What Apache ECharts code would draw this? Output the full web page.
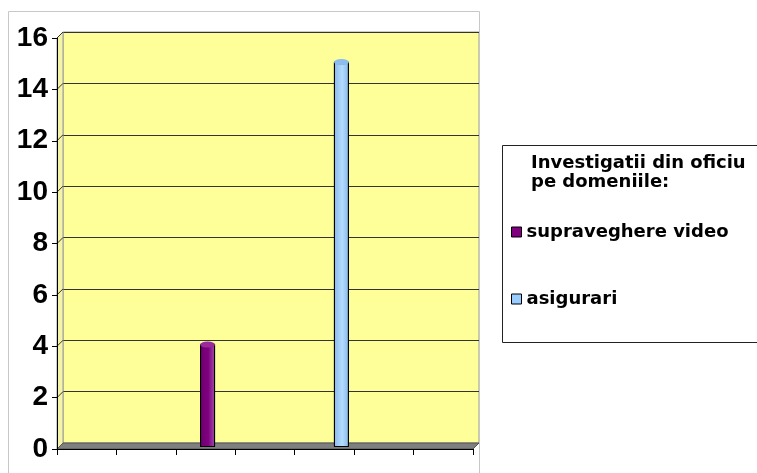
<!DOCTYPE html>
<html>
<head>
<meta charset="utf-8">
<script src="https://cdn.jsdelivr.net/npm/echarts@6/dist/echarts.min.js"></script>
<style>
  html, body { margin: 0; padding: 0; background: #fff; }
  #chart { width: 757px; height: 473px; }
</style>
</head>
<body>
<div id="chart"></div>
<script>
// date
const categories = ['', '', '', '', '', '', ''];
const supraveghereVideo = ['-', '-', 4, '-', '-', '-', '-'];
const asigurari = ['-', '-', '-', '-', 15, '-', '-'];
const yTicks = [0, 2, 4, 6, 8, 10, 12, 14, 16];
const legendTitle = 'Investigatii din oficiu\npe domeniile:';
const seriesNames = ['supraveghere video', 'asigurari'];

// geometria graficului 3D (axa din fata, peretele din spate)
const front = { left: 57, top: 38, width: 416, height: 411 };
const depth = 6;
const wall = { left: front.left + depth, top: front.top - depth, width: front.width, height: front.height };
const mid = { left: front.left + 9.5, top: front.top - 2, width: front.width, height: front.height };

const wallColor = '#FFFF99';
const purple = '#800080';
const blue = '#99CCFF';

function cylinder(c0, c1, c2) {
  return {
    type: 'linear', x: 0, y: 0, x2: 1, y2: 0,
    colorStops: [
      { offset: 0, color: c0 },
      { offset: 0.55, color: c1 },
      { offset: 1, color: c2 }
    ]
  };
}

const chart = echarts.init(document.getElementById('chart'));

const option = {
  animation: false,
  title: {
    text: legendTitle,
    left: 531,
    top: 154,
    padding: 0,
    textStyle: {
      fontFamily: 'DejaVu Sans', fontWeight: 'bold', fontSize: 18,
      lineHeight: 19, color: '#000'
    }
  },
  legend: {
    orient: 'vertical',
    left: 511,
    top: 222,
    padding: 0,
    itemWidth: 10,
    itemHeight: 10,
    itemGap: 47,
    icon: 'rect',
    selectedMode: false,
    data: [
      { name: seriesNames[0], itemStyle: { color: purple, borderColor: '#000', borderWidth: 1 } },
      { name: seriesNames[1], itemStyle: { color: blue, borderColor: '#000', borderWidth: 1 } }
    ],
    textStyle: {
      fontFamily: 'DejaVu Sans', fontWeight: 'bold', fontSize: 18,
      lineHeight: 20, color: '#000'
    }
  },
  grid: [
    Object.assign({ containLabel: false }, front),
    Object.assign({
      show: true, backgroundColor: wallColor, borderColor: '#999', borderWidth: 1
    }, wall),
    mid
  ],
  xAxis: [
    {
      gridIndex: 0, type: 'category', data: categories, z: 6,
      axisLine: { lineStyle: { color: '#000', width: 1 } },
      axisTick: { show: true, interval: 0, length: 6, lineStyle: { color: '#000' } },
      axisLabel: { show: false },
      splitLine: { show: false }
    },
    { gridIndex: 1, type: 'category', data: categories, show: false },
    { gridIndex: 2, type: 'category', data: categories, show: false }
  ],
  yAxis: [
    {
      gridIndex: 0, type: 'value', min: 0, max: 16, interval: 2, z: 6,
      axisLine: { show: true, lineStyle: { color: '#000', width: 1 } },
      axisTick: { show: true, length: 5, lineStyle: { color: '#000' } },
      axisLabel: {
        margin: 9, color: '#000', fontFamily: '"Liberation Sans", Arial, sans-serif',
        fontWeight: 'bold', fontSize: 28
      },
      splitLine: { show: false }
    },
    {
      gridIndex: 1, type: 'value', min: 0, max: 16, interval: 2,
      axisLine: { show: false }, axisTick: { show: false }, axisLabel: { show: false },
      splitLine: { show: true, lineStyle: { color: '#333', width: 1 } }
    },
    { gridIndex: 2, type: 'value', min: 0, max: 16, show: false }
  ],
  series: [
    {
      name: seriesNames[0], type: 'bar', xAxisIndex: 2, yAxisIndex: 2,
      data: supraveghereVideo, barWidth: 15, barGap: '0%', z: 3,
      itemStyle: { color: cylinder('#6e006e', purple, '#a050a8'), borderColor: '#000', borderWidth: 1 }
    },
    {
      name: seriesNames[1], type: 'bar', xAxisIndex: 2, yAxisIndex: 2,
      data: asigurari, barWidth: 15, barGap: '0%', z: 3,
      itemStyle: { color: cylinder('#8ab8ec', '#b4dcff', '#86b6e6'), borderColor: '#000', borderWidth: 1 }
    },
    {
      name: 'capac 1', type: 'pictorialBar', xAxisIndex: 2, yAxisIndex: 2,
      data: supraveghereVideo, barWidth: 15, barGap: '0%', z: 4,
      symbol: 'circle', symbolSize: [15, 6], symbolPosition: 'end', symbolOffset: [0, '-50%'],
      itemStyle: { color: '#9a2a9a', borderColor: '#000', borderWidth: 1 }
    },
    {
      name: 'capac 2', type: 'pictorialBar', xAxisIndex: 2, yAxisIndex: 2,
      data: asigurari, barWidth: 15, barGap: '0%', z: 4,
      symbol: 'circle', symbolSize: [15, 6], symbolPosition: 'end', symbolOffset: [0, '-50%'],
      itemStyle: { color: '#8cbdee', borderColor: '#000', borderWidth: 1 }
    }
  ]
};

chart.setOption(option);

// decor: chenar, podea, perete lateral, legaturi diagonale
const fb = front.top + front.height;
const fr = front.left + front.width;
const graphics = [
  {
    type: 'rect', z: 0, silent: true,
    shape: { x: 8.5, y: 11.5, width: 471, height: 480 },
    style: { fill: 'none', stroke: '#c8c8c8', lineWidth: 1 }
  },
  {
    type: 'rect', z: 0, silent: true,
    shape: { x: 502.5, y: 145.5, width: 300, height: 197 },
    style: { fill: 'none', stroke: '#222', lineWidth: 1 }
  },
  {
    type: 'polygon', z: 1, silent: true,
    shape: { points: [[front.left, front.top], [wall.left, wall.top], [wall.left, fb - depth], [front.left, fb]] },
    style: { fill: '#f4f4a8', stroke: '#999', lineWidth: 1 }
  },
  {
    type: 'polygon', z: 2, silent: true,
    shape: { points: [[front.left, fb], [fr, fb], [fr + depth, fb - depth], [wall.left, fb - depth]] },
    style: { fill: '#7f7f7f', stroke: '#555', lineWidth: 1 }
  }
];
yTicks.forEach(function (v) {
  if (v === 0) return;
  const y0 = chart.convertToPixel({ yAxisIndex: 0 }, v);
  const y1 = chart.convertToPixel({ yAxisIndex: 1 }, v);
  graphics.push({
    type: 'line', z: 2, silent: true,
    shape: { x1: front.left, y1: y0, x2: wall.left, y2: y1 },
    style: { stroke: '#333', lineWidth: 1 }
  });
});
chart.setOption({ graphic: graphics });
</script>
</body>
</html>
